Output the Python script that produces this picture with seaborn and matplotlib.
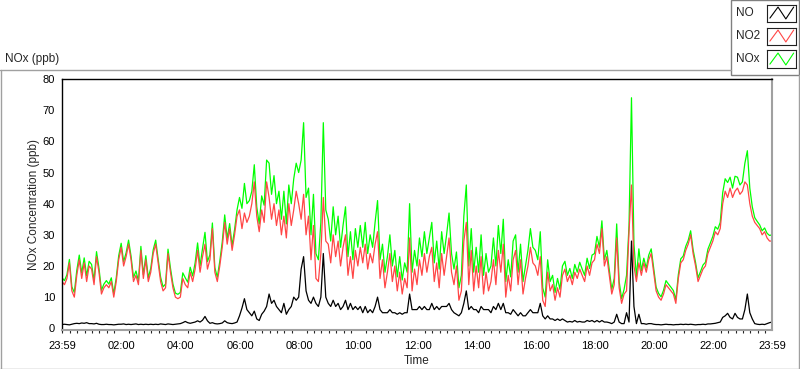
import pandas as pd
import matplotlib
matplotlib.use("Agg")
import matplotlib.pyplot as plt
import matplotlib.dates as mdates
from matplotlib.lines import Line2D
from matplotlib.patches import Rectangle
import seaborn as sns

sns.set_style("white")
plt.rcParams['font.family'] = ['Liberation Sans', 'DejaVu Sans']

# 5-minute readings from 23:59 to 23:59, one row per hour
no2 = [
    15, 14, 16, 21, 12, 10, 17, 22, 16, 21, 15, 20,
    19, 14, 23, 18, 11, 13, 14, 13, 15, 10, 15, 22,
    26, 20, 23, 27, 22, 15, 17, 14, 25, 16, 22, 15,
    18, 24, 27, 21, 15, 12, 13, 24, 18, 13, 10, 9.5,
    10, 16, 14, 13, 18, 15, 19, 25, 18, 23, 27, 19,
    22, 32, 18, 15, 20, 26, 34, 27, 32, 25, 30, 36,
    38, 32, 37, 34, 36, 40, 47, 36, 31, 38, 34, 47,
    42, 35, 40, 33, 38, 30, 36, 29, 40, 33, 38, 44,
    40, 35, 43, 30, 36, 22, 33, 16, 15, 24, 42, 28,
    27, 21, 30, 23, 28, 20, 26, 30, 17, 23, 16, 25,
    20, 26, 21, 27, 19, 24, 21, 27, 31, 16, 22, 13,
    18, 24, 15, 20, 12, 18, 11, 16, 13, 29, 12, 19,
    14, 22, 17, 24, 18, 23, 26, 15, 21, 13, 24, 17,
    23, 29, 18, 14, 20, 9, 12, 28, 34, 14, 25, 12,
    20, 13, 23, 11, 18, 12, 15, 22, 14, 25, 18, 27,
    10, 17, 12, 22, 25, 14, 22, 11, 16, 20, 26, 21,
    20, 17, 23, 9, 7, 18, 12, 14, 9, 13, 10, 17,
    19, 15, 17, 14, 18, 16, 19, 17, 15, 20, 17, 21,
    22, 27, 24, 32, 20, 23, 17, 11, 14, 29, 13, 8,
    11, 12, 31, 46, 20, 15, 21, 17, 21, 18, 22, 24,
    18, 12, 10, 9, 11, 14, 13, 12, 11, 8, 16, 21,
    22, 25, 27, 30, 24, 20, 15, 17, 19, 20, 24, 26,
    28, 31, 30, 32, 40, 44, 42, 45, 42, 44, 45, 43,
    44, 47, 46, 40, 36, 34, 33, 32, 30, 31, 29, 28,
    28,
]

no = [
    1.2, 1.3, 1.2, 1.1, 1.3, 1.5, 1.6, 1.5, 1.7, 1.6, 1.8, 1.5,
    1.5, 1.4, 1.6, 1.3, 1.2, 1.2, 1.3, 1.2, 1.2, 1.1, 1.2, 1.3,
    1.3, 1.4, 1.2, 1.3, 1.2, 1.3, 1.4, 1.2, 1.3, 1.2, 1.3, 1.2,
    1.3, 1.2, 1.3, 1.2, 1.4, 1.3, 1.2, 1.4, 1.3, 1.2, 1.3, 1.4,
    1.5, 1.8, 2.2, 1.8, 1.6, 1.8, 2.0, 2.4, 2.0, 2.6, 3.8, 2.4,
    1.6, 1.8, 1.5, 1.4, 1.5, 1.7, 2.4, 1.8, 1.6, 1.5, 1.7, 2.0,
    4.0, 6.5, 9.5, 6.0, 5.0, 4.0, 5.5, 3.0, 2.5, 4.5, 5.5, 7.0,
    11, 8, 9, 7, 6, 5, 8, 4.5, 6, 7, 10, 9,
    10, 19, 23, 12, 9, 8, 10, 8, 7, 10, 24, 10,
    8, 7, 9, 7, 8, 6, 7, 9, 6, 8, 6, 7,
    6, 7, 5, 7, 5, 6, 5, 7, 10, 6, 5, 5,
    5, 6, 5, 5, 4.5, 5, 4.5, 5, 5, 11, 6, 6,
    6, 7, 6, 7, 6, 6, 8, 6, 7, 6, 7, 7,
    7, 8, 6, 5, 4.5, 4, 5, 8, 12, 6, 7, 6,
    6, 5, 7, 6, 6, 6, 5, 7, 6, 8, 6, 8,
    5, 5, 4.5, 6, 5, 4, 5, 4, 4, 5, 6, 5,
    5, 5, 8, 4, 3, 4, 3, 3, 2.5, 3, 2.5, 3,
    2.5, 2, 2.2, 2, 2.5, 2, 2.2, 2, 2, 2.5, 2.2, 2.5,
    2, 2.5, 2, 2.5, 2, 2, 1.8, 1.5, 2, 4.5, 2, 1.5,
    1.5, 5, 2, 28, 7, 1.5, 4.5, 1.5, 1.5, 1.3, 1.5, 1.5,
    1.3, 1.2, 1.2, 1.1, 1.2, 1.3, 1.2, 1.2, 1.1, 1.2, 1.2, 1.3,
    1.2, 1.3, 1.2, 1.3, 1.2, 1.1, 1.2, 1.2, 1.3, 1.2, 1.4, 1.4,
    1.5, 1.6, 1.8, 2, 3.5, 4, 4.8, 3.5, 3, 4.8, 3.5, 3,
    3, 6, 11, 5, 3, 1.5, 1.3, 1.2, 1.3, 1.2, 1.5, 1.8,
    2,
]

nox = [
    16.2, 15.3, 17.2, 22.1, 13.3, 11.5, 18.6, 23.5, 17.7, 22.6, 16.8, 21.5,
    20.5, 15.4, 24.6, 19.3, 12.2, 14.2, 15.3, 14.2, 16.2, 11.1, 16.2, 23.3,
    27.3, 21.4, 24.2, 28.3, 23.2, 16.3, 18.4, 15.2, 26.3, 17.2, 23.3, 16.2,
    19.3, 25.2, 28.3, 22.2, 16.4, 13.3, 14.2, 25.4, 19.3, 14.2, 11.3, 10.9,
    11.5, 17.8, 16.2, 14.8, 19.6, 16.8, 21.0, 27.4, 20.0, 25.6, 30.8, 21.4,
    23.6, 33.8, 19.5, 16.4, 21.5, 27.7, 36.4, 28.8, 33.6, 26.5, 31.7, 38.0,
    42, 38.5, 46.5, 40, 41, 44, 52.5, 39, 33.5, 42.5, 39.5, 54,
    53, 43, 49, 40, 44, 35, 44, 33.5, 46, 40, 48, 53,
    50, 54, 66, 42, 45, 30, 43, 24, 22, 34, 66, 38,
    35, 28, 39, 30, 36, 26, 33, 39, 23, 31, 22, 32,
    26, 33, 26, 34, 24, 30, 26, 34, 41, 22, 27, 18,
    23, 30, 20, 25, 16.5, 23, 15.5, 21, 18, 40, 18, 25,
    20, 29, 23, 31, 24, 29, 34, 21, 28, 19, 31, 24,
    30, 37, 24, 19, 24.5, 13, 17, 36, 46, 20, 32, 18,
    26, 18, 30, 17, 24, 18, 20, 29, 20, 33, 24, 35,
    15, 22, 16.5, 28, 30, 18, 27, 15, 20, 25, 32, 26,
    25, 22, 31, 13, 10, 22, 15, 17, 11.5, 16, 12.5, 20,
    21.5, 17, 19.2, 16, 20.5, 18, 21.2, 19, 17, 22.5, 19.2, 23.5,
    24, 29.5, 26, 34.5, 22, 25, 18.8, 12.5, 16, 33.5, 15, 9.5,
    12.5, 17, 33, 74, 27, 16.5, 25.5, 18.5, 22.5, 19.3, 23.5, 25.5,
    19.3, 13.2, 11.2, 10.1, 12.2, 15.3, 14.2, 13.2, 12.1, 9.2, 17.2, 22.3,
    23.2, 26.3, 28.2, 31.3, 25.2, 21.1, 16.2, 18.2, 20.3, 21.2, 25.4, 27.4,
    29.5, 32.6, 31.8, 34, 43.5, 48, 46.8, 48.5, 45, 48.8, 48.5, 46,
    47, 53, 57, 45, 39, 35.5, 34.3, 33.2, 31.3, 32.2, 30.5, 29.8,
    30,
]

series = ["NO", "NO2", "NOx"]
colors = {"NO": "black", "NO2": "#ff4646", "NOx": "#00ff00"}
hour_ticks = ["02:00", "04:00", "06:00", "08:00", "10:00", "12:00",
              "14:00", "16:00", "18:00", "20:00", "22:00"]

times = pd.date_range("2024-01-01 23:59", periods=len(no2), freq="5min")
df = pd.DataFrame({"Time": times, "NO": no, "NO2": no2, "NOx": nox})

W, H = 800, 369
fig = plt.figure(figsize=(W / 100, H / 100), dpi=100)
ax = fig.add_axes([62 / W, 1 - 330 / H, (772 - 62) / W, (330 - 78.6) / H])

# green under red under black, like the original
for name in ["NOx", "NO2", "NO"]:
    sns.lineplot(data=df, x="Time", y=name, color=colors[name], lw=0.9, ax=ax)

ax.set_xlim(times[0], times[-1])
ax.set_ylim(-0.55, 80.15)
ax.set_yticks(range(0, 81, 10))

major = [times[0]] + [pd.Timestamp("2024-01-02 " + h) for h in hour_ticks] + [times[-1]]
ax.set_xticks(major)
ax.xaxis.set_major_formatter(mdates.DateFormatter("%H:%M"))
ax.xaxis.set_minor_locator(mdates.MinuteLocator(byminute=[0, 15, 30, 45]))

ax.tick_params(axis="both", which="major", direction="out", length=3, width=0.8,
               labelsize=8, pad=2, colors="black")
ax.tick_params(axis="x", which="major", length=4, pad=4)
ax.tick_params(axis="x", which="minor", direction="out", length=2.5, width=0.8,
               bottom=True)

for s in ["top", "left"]:
    ax.spines[s].set_color("black")
    ax.spines[s].set_linewidth(1.0)
for s in ["bottom", "right"]:
    ax.spines[s].set_color("#a0a0a0")
    ax.spines[s].set_linewidth(1.5)

ax.set_xlabel("Time", fontsize=8.5, labelpad=3)
ax.set_ylabel("NOx Concentration (ppb)", fontsize=8.5, labelpad=2)

# panel frame
frame_kw = dict(color="#a0a0a0", lw=1, transform=fig.transFigure)
fig.add_artist(Line2D([0, 731 / W], [1 - 69.5 / H] * 2, **frame_kw))
fig.add_artist(Line2D([0.6 / W] * 2, [1 - 69.5 / H, 0.5 / H], **frame_kw))
fig.add_artist(Line2D([0, 1], [0.5 / H] * 2, **frame_kw))
fig.add_artist(Line2D([798.5 / W] * 2, [0, 1 - 75 / H], **frame_kw))
fig.text(5 / W, 1 - 59 / H, "NOx (ppb)", fontsize=8.5, va="center", ha="left")

# legend box with zigzag samples
fig.add_artist(Rectangle((731 / W, 1 - 75 / H), (798.5 - 731) / W, 75 / H,
                         transform=fig.transFigure, facecolor="white",
                         edgecolor="#808080", lw=1, zorder=-1))
for i, name in enumerate(series):
    yc = 13 + 23 * i
    fig.text(736 / W, 1 - yc / H, name, fontsize=8.5, va="center", ha="left")
    lax = fig.add_axes([767 / W, 1 - (yc + 8.5) / H, 29 / W, 17 / H])
    lax.set_zorder(5)
    lax.plot([0.1, 0.38, 0.65, 0.92], [0.2, 0.85, 0.15, 0.85], color=colors[name], lw=0.8)
    lax.set_xlim(0, 1)
    lax.set_ylim(0, 1)
    lax.set_xticks([])
    lax.set_yticks([])
    for sp in lax.spines.values():
        sp.set_color("#202020")
        sp.set_linewidth(0.8)

fig.savefig("out.png", dpi=100)
